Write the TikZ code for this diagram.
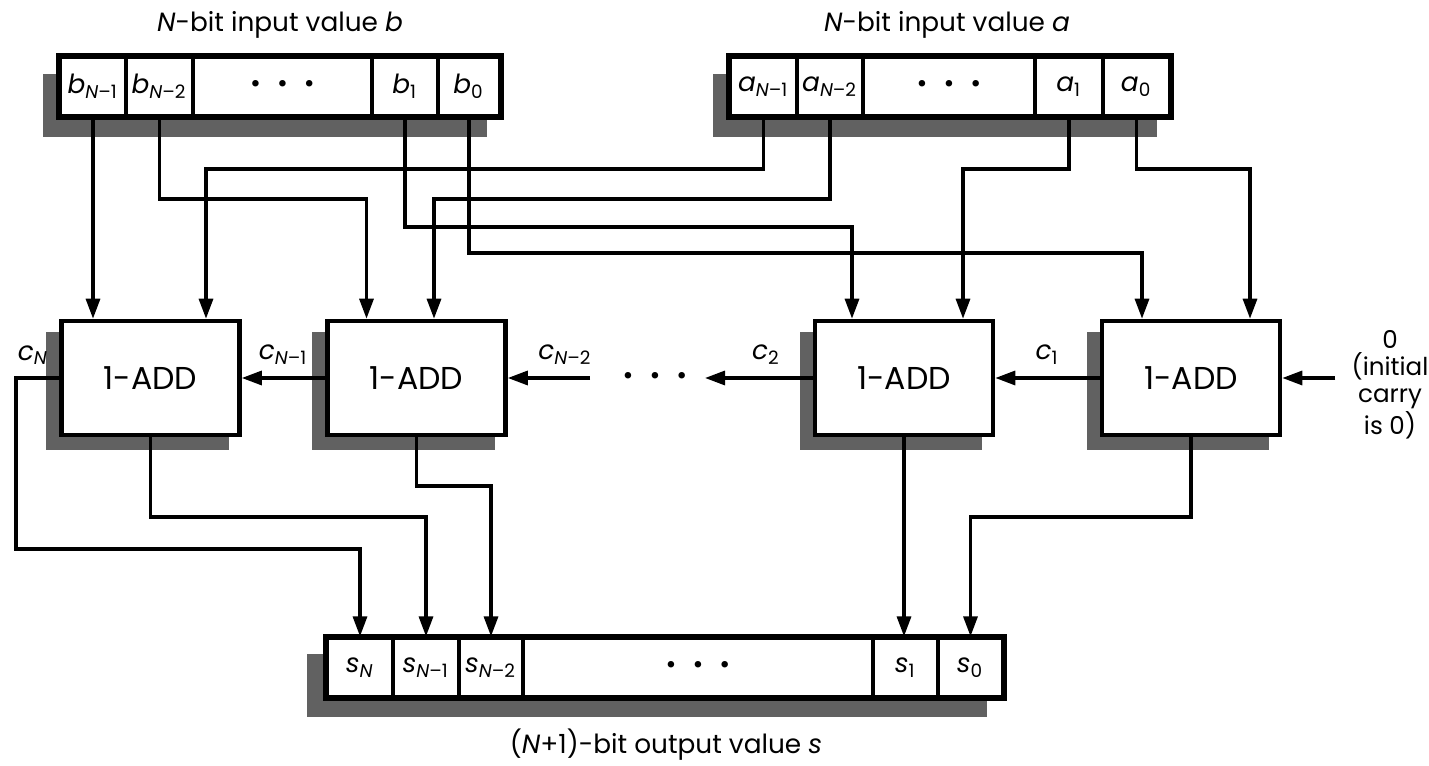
\documentclass[tikz,border=0pt]{standalone}
\usepackage{fontspec}
\setmainfont{Poppins}
\usetikzlibrary{arrows.meta,positioning,backgrounds}

\newcommand{\sig}[2]{\textit{#1}\textsubscript{#2}}
\newcommand{\NN}{\textit{N}}
\newcommand{\threedots}{\textbullet\hspace{1.6mm}\textbullet\hspace{1.6mm}\textbullet}

\begin{document}
\begin{tikzpicture}[
  cell/.style={draw,line width=0.9pt,fill=white,minimum height=5.9mm,inner sep=0pt,font=\fontsize{7.5}{9}\selectfont},
  frame/.style={line width=1.6pt},
  adder/.style={draw,line width=1.3pt,fill=white,minimum width=17.8mm,minimum height=11.4mm,font=\fontsize{9}{11}\selectfont},
  wire/.style={line width=0.9pt,-{Triangle[length=2mm,width=1.4mm]}},
  lab/.style={font=\fontsize{7.5}{8}\selectfont},
  shade/.style={fill=black!62}]
\useasboundingbox (0,0) rectangle (14.29,7.65);

% titles
\node[lab] (titb) at (2.80,7.40) {\NN-bit input value \textit{b}};
\node[lab] (tita) at (9.47,7.40) {\NN-bit input value \textit{a}};
\node[lab] (tits) at (6.66,0.20) {(\NN+1)-bit output value \textit{s}};

% input register b
\node[cell,minimum width=6.6mm] (bN1) at (0.93,6.785) {\sig{b}{\NN–1}};
\node[cell,minimum width=6.7mm] (bN2) at (1.595,6.785) {\sig{b}{\NN–2}};
\node[cell,minimum width=17.9mm] (bdots) at (2.825,6.785) {\threedots};
\node[cell,minimum width=6.6mm] (b1) at (4.05,6.785) {\sig{b}{1}};
\node[cell,minimum width=6.2mm] (b0) at (4.69,6.785) {\sig{b}{0}};
\draw[frame] (bN1.south west) rectangle (b0.north east);

% input register a
\node[cell,minimum width=6.7mm] (aN1) at (7.635,6.785) {\sig{a}{\NN–1}};
\node[cell,minimum width=6.6mm] (aN2) at (8.30,6.785) {\sig{a}{\NN–2}};
\node[cell,minimum width=17.2mm] (adots) at (9.49,6.785) {\threedots};
\node[cell,minimum width=6.8mm] (a1) at (10.69,6.785) {\sig{a}{1}};
\node[cell,minimum width=6.7mm] (a0) at (11.365,6.785) {\sig{a}{0}};
\draw[frame] (aN1.south west) rectangle (a0.north east);

% output register s
\node[cell,minimum width=6.6mm] (sN) at (3.60,0.975) {\sig{s}{\NN}};
\node[cell,minimum width=6.6mm] (sN1) at (4.26,0.975) {\sig{s}{\NN–1}};
\node[cell,minimum width=6.4mm] (sN2) at (4.91,0.975) {\sig{s}{\NN–2}};
\node[cell,minimum width=35mm] (sdots) at (6.98,0.975) {\threedots};
\node[cell,minimum width=6.5mm] (s1) at (9.055,0.975) {\sig{s}{1}};
\node[cell,minimum width=6.5mm] (s0) at (9.705,0.975) {\sig{s}{0}};
\draw[frame] (sN.south west) rectangle (s0.north east);

% one-bit adders
\node[adder] (add1) at (1.505,3.87) {1-ADD};
\node[adder] (add2) at (4.165,3.87) {1-ADD};
\node[adder] (add3) at (9.04,3.87) {1-ADD};
\node[adder] (add4) at (11.91,3.87) {1-ADD};

% shadows
\begin{scope}[on background layer]
\fill[shade] ([shift={(-1.5mm,-1.9mm)}]bN1.south west) rectangle ([shift={(-1.5mm,-1.9mm)}]b0.north east);
\fill[shade] ([shift={(-1.5mm,-1.9mm)}]aN1.south west) rectangle ([shift={(-1.5mm,-1.9mm)}]a0.north east);
\fill[shade] ([shift={(-1.8mm,-1.8mm)}]sN.south west) rectangle ([shift={(-1.8mm,-1.8mm)}]s0.north east);
\foreach \n in {add1,add2,add3,add4}
  \fill[shade] ([shift={(-1.3mm,-1.3mm)}]\n.south west) rectangle ([shift={(-1.3mm,-1.3mm)}]\n.north east);
\end{scope}

% wiring levels and adder pins
\coordinate (lvA) at (0,5.96);
\coordinate (lvB) at (0,5.66);
\coordinate (lvC) at (0,5.38);
\coordinate (lvD) at (0,5.12);
\coordinate (lvP) at (0,2.79);
\coordinate (lvQ) at (0,2.48);
\coordinate (lvR) at (0.16,2.16);
\coordinate (p1b) at (bN1.south |- add1.north);
\coordinate (p1a) at ([xshift=5.55mm]add1.north);
\coordinate (p2b) at ([xshift=-5mm]add2.north);
\coordinate (p2a) at ([xshift=1.75mm]add2.north);
\coordinate (p3b) at ([xshift=-5.2mm]add3.north);
\coordinate (p3a) at ([xshift=5.9mm]add3.north);
\coordinate (p4b) at ([xshift=-4.9mm]add4.north);
\coordinate (p4a) at ([xshift=5.9mm]add4.north);

% operand bits into the adders
\draw[wire] (bN1.south) -- (p1b);
\draw[wire] (aN1.south) |- (p1a |- lvA) -- (p1a);
\draw[wire] (bN2.south) |- (p2b |- lvB) -- (p2b);
\draw[wire] (aN2.south) |- (p2a |- lvB) -- (p2a);
\draw[wire] (b1.south) |- (p3b |- lvC) -- (p3b);
\draw[wire] (a1.south) |- (p3a |- lvA) -- (p3a);
\draw[wire] (b0.south) |- (p4b |- lvD) -- (p4b);
\draw[wire] (a0.south) |- (p4a |- lvA) -- (p4a);

% carry chain
\draw[wire] (add2.west) -- node[above,lab]{\sig{c}{\NN–1}} (add1.east);
\coordinate (cin2) at (5.90,3.87);
\draw[wire] (cin2) -- node[above,lab,pos=0.3]{\sig{c}{\NN–2}} (add2.east);
\node[lab] (cdots) at (6.55,3.87) {\threedots};
\coordinate (cout3) at (7.05,3.87);
\draw[wire] (add3.west) -- node[above,lab,pos=0.43]{\sig{c}{2}} (cout3);
\draw[wire] (add4.west) -- node[above,lab]{\sig{c}{1}} (add3.east);
\node[lab,align=center,font=\fontsize{7}{7.6}\selectfont,inner sep=1pt] (init) at (13.90,3.80) {0\\(initial\\carry\\is 0)};
\draw[wire] ([xshift=-1.2mm]init.west |- add4.east) -- (add4.east);

% sum bits out
\draw[wire] (add1.south) |- (sN1 |- lvQ) -- (sN1.north);
\draw[wire] (add2.south) |- (sN2 |- lvP) -- (sN2.north);
\draw[wire] (add3.south) -- (add3.south |- s1.north);
\draw[wire] (add4.south) |- (s0 |- lvQ) -- (s0.north);
\draw[wire] (add1.west) -| node[pos=0.3,above,lab]{\sig{c}{\NN}} (lvR) -| (sN.north);
\end{tikzpicture}
\end{document}
